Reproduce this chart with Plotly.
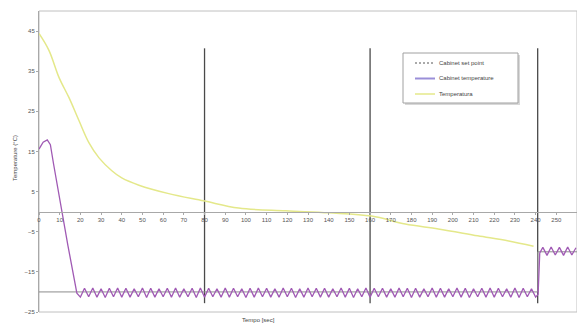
import plotly.graph_objects as go

# ---- data ----
setpoint_t = [0, 241, 241, 260]
setpoint_v = [-20, -20, -10, -10]

purple_t = [0, 2, 4, 5.5, 7, 10, 14, 18.3,
            20, 22, 24, 26, 28, 30, 32, 34, 36, 38,
            40, 42, 44, 46, 48, 50, 52, 54, 56, 58,
            60, 62, 64, 66, 68, 70, 72, 74, 76, 78,
            80, 82, 84, 86, 88, 90, 92, 94, 96, 98,
            100, 102, 104, 106, 108, 110, 112, 114, 116, 118,
            120, 122, 124, 126, 128, 130, 132, 134, 136, 138,
            140, 142, 144, 146, 148, 150, 152, 154, 156, 158,
            160, 162, 164, 166, 168, 170, 172, 174, 176, 178,
            180, 182, 184, 186, 188, 190, 192, 194, 196, 198,
            200, 202, 204, 206, 208, 210, 212, 214, 216, 218,
            220, 222, 224, 226, 228, 230, 232, 234, 236, 238,
            240, 241.2, 242, 243.5, 245.5, 247.5, 249.5, 251.5, 253.5, 255.5, 257.5, 259.5]
purple_v = [15.6, 17.3, 17.9, 16.7, 12.0, 3.0, -8.5, -20.3,
            -21.3, -19.1, -21.2, -19.0, -21.3, -19.2, -21.4, -19.1, -21.2, -19.0,
            -21.3, -19.1, -21.3, -19.2, -21.2, -19.0, -21.4, -19.1, -21.3, -19.2,
            -21.2, -19.1, -21.3, -19.0, -21.3, -19.2, -21.2, -19.1, -21.4, -19.0,
            -21.3, -19.1, -21.2, -19.2, -21.3, -19.0, -21.3, -19.1, -21.2, -19.2,
            -21.4, -19.1, -21.3, -19.0, -21.2, -19.1, -21.3, -19.2, -21.3, -19.0,
            -21.2, -19.1, -21.4, -19.2, -21.3, -19.0, -21.2, -19.1, -21.3, -19.1,
            -21.3, -19.2, -21.2, -19.0, -21.3, -19.1, -21.4, -19.2, -21.2, -19.0,
            -21.3, -19.1, -21.2, -19.1, -21.3, -19.2, -21.3, -19.0, -21.2, -19.1,
            -21.4, -19.1, -21.3, -19.2, -21.2, -19.0, -21.3, -19.1, -21.3, -19.2,
            -21.2, -19.0, -21.3, -19.1, -21.4, -19.2, -21.2, -19.1, -21.3, -19.0,
            -21.3, -19.1, -21.2, -19.2, -21.3, -19.0, -21.4, -19.1, -21.2, -19.2,
            -21.3, -20.6, -10.3, -8.9, -10.9, -8.8, -10.8, -8.9, -10.9, -8.8, -10.8, -9.0]

yellow_t = [0, 4.8, 9.7, 14.5, 19.3, 24.1, 29, 35.2, 40, 48.3, 62.7, 79.6,
            96.5, 119.2, 140, 160.7, 177, 193, 212, 227, 239]
yellow_v = [44.4, 40.2, 33.4, 28.4, 22.7, 17.2, 13.4, 10.2, 8.4, 6.6, 4.5, 2.7,
            0.9, 0.2, -0.3, -1.1, -3.1, -4.3, -6.0, -7.3, -8.6]

event_t = [80, 160, 241]
event_span = [-22.8, 40.7]

x_range = [0, 260]
y_range = [-25, 50]
x_tick_step = 10
y_tick0, y_tick_step = -25, 10

series_names = ["Cabinet set point", "Cabinet temperature", "Temperatura"]

# ---- figure ----
FONT = "Liberation Sans"
C_SET, C_CAB, C_TMP = "#8c8c8c", "#a05ab4", "#e4e88a"
fig = go.Figure()

ex, ey = [], []
for t in event_t:
    ex += [t, t, None]
    ey += [event_span[0], event_span[1], None]
fig.add_trace(go.Scatter(x=ex, y=ey, mode="lines", showlegend=False,
                         line=dict(color="#4a4a4a", width=1.3), hoverinfo="skip"))

fig.add_trace(go.Scatter(x=setpoint_t, y=setpoint_v, mode="lines",
                         name=series_names[0], showlegend=False,
                         line=dict(color=C_SET, width=1)))
fig.add_trace(go.Scatter(x=purple_t, y=purple_v, mode="lines",
                         name=series_names[1], showlegend=False,
                         line=dict(color=C_CAB, width=1.3)))
fig.add_trace(go.Scatter(x=yellow_t, y=yellow_v, mode="lines",
                         name=series_names[2], showlegend=False,
                         line=dict(color=C_TMP, width=1.5, shape="spline")))

zero_pos = (0 - y_range[0]) / (y_range[1] - y_range[0])

# custom compact legend (paper coords)
L, T, B = 39, 11, 312
W, H = 577 - L, B - T
def px(xp): return (xp - L) / W
def py(yp): return (B - yp) / H

shapes = [dict(type="rect", xref="paper", yref="paper", x0=0, x1=1, y0=0, y1=1,
               line=dict(color="#c0c0c0", width=1), layer="below"),
          dict(type="rect", xref="paper", yref="paper",
               x0=px(405), x1=px(520), y0=py(105), y1=py(55),
               line=dict(width=0), fillcolor="#d8d8d8", layer="above"),
          dict(type="rect", xref="paper", yref="paper",
               x0=px(403), x1=px(518), y0=py(103), y1=py(53),
               line=dict(color="#a0a0a0", width=1), fillcolor="white", layer="above")]
annotations = [
    dict(text="Tempo [sec]", xref="paper", yref="paper", x=px(258), y=py(315),
         xanchor="center", yanchor="top", showarrow=False,
         font=dict(size=6, color="#444")),
    dict(text="Temperature (°C)", xref="paper", yref="paper", x=px(15), y=py(158),
         xanchor="center", yanchor="middle", showarrow=False, textangle=-90,
         font=dict(size=6, color="#444")),
]
leg_styles = [dict(color="#555", width=1, dash="2px,2px"),
              dict(color="#9a8fd8", width=2),
              dict(color=C_TMP, width=1.5)]
for i, (name, st) in enumerate(zip(series_names, leg_styles)):
    yy = 63 + i * 15.5
    shapes.append(dict(type="line", xref="paper", yref="paper",
                       x0=px(415), x1=px(435), y0=py(yy), y1=py(yy),
                       line=st, layer="above"))
    annotations.append(dict(text=name, xref="paper", yref="paper",
                            x=px(437), y=py(yy), xanchor="left", yanchor="middle",
                            showarrow=False, font=dict(size=6, color="#444")))

fig.update_layout(
    width=577, height=329,
    margin=dict(l=L, r=0, t=T, b=329 - B),
    paper_bgcolor="white", plot_bgcolor="white",
    font=dict(family=FONT, size=6, color="#444"),
    xaxis=dict(range=x_range, dtick=x_tick_step, tick0=0,
               anchor="free", position=zero_pos,
               showline=True, linecolor="#a8a8a8", linewidth=1,
               ticks="outside", ticklen=2, tickcolor="#a8a8a8",
               showgrid=False, zeroline=False, automargin=False,
               tickfont=dict(size=6, color="#555")),
    yaxis=dict(range=y_range, tick0=y_tick0, dtick=y_tick_step,
               showline=True, linecolor="#a8a8a8", linewidth=1,
               ticks="outside", ticklen=2, tickcolor="#a8a8a8",
               showgrid=False, zeroline=False, automargin=False,
               tickfont=dict(size=6, color="#555")),
    showlegend=False,
    shapes=shapes,
    annotations=annotations,
)

fig.write_html("out.html", config={"displayModeBar": False},
               post_script="document.body.style.margin='0';document.body.style.padding='0';"
                           "window.dispatchEvent(new Event('resize'));")
